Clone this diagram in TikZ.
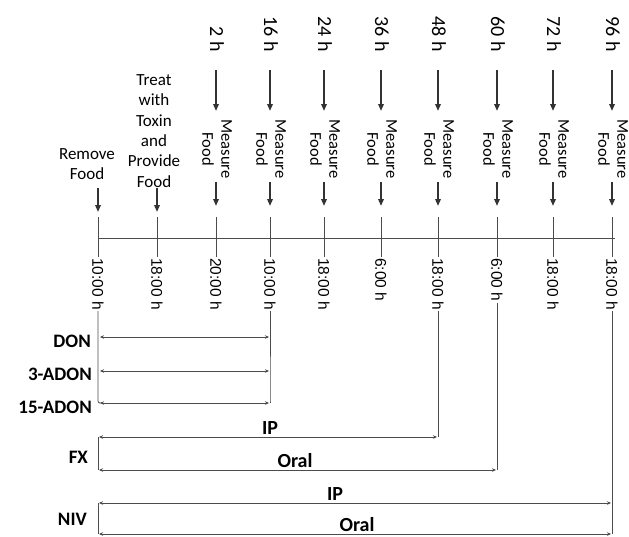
\documentclass[tikz,border=0pt]{standalone}
\usepackage{fontspec}
\setmainfont{Carlito}
\newfontfamily\arialfont{Liberation Sans}
\usetikzlibrary{arrows.meta}

\begin{document}
\begin{tikzpicture}[x=1pt,y=-1pt,
  bigarrow/.style={draw=black!80, line width=1.7pt, -{Triangle[length=7pt,width=5.5pt]}},
  tickline/.style={draw=black!70, line width=0.8pt},
  barline/.style={draw=black!70, line width=0.8pt, {Stealth[length=4pt,width=3.5pt]}-{Stealth[length=4pt,width=3.5pt]}},
  hourlbl/.style={rotate=-90, anchor=east, inner sep=0pt, font=\fontsize{20}{22}\selectfont},
  measurelbl/.style={rotate=-90, align=center, inner sep=0pt, font=\fontsize{16.5}{19}\selectfont},
  timelbl/.style={rotate=-90, anchor=west, inner sep=1pt, font=\arialfont\fontsize{15.5}{18}\selectfont},
  eventlbl/.style={align=center, inner sep=0pt, font=\fontsize{17}{20.3}\selectfont},
  toxinlbl/.style={anchor=east, inner sep=0pt, font=\bfseries\fontsize{19}{21}\selectfont},
  routelbl/.style={inner sep=0pt, font=\bfseries\fontsize{20}{22}\selectfont},
  corner/.style={rounded corners=2pt}]
\useasboundingbox (0,0) rectangle (629,536);

% column positions
\foreach \n/\x in {1/98,2/157,3/216,4/270,5/324,6/381,7/438,8/497,9/553,10/612}{
  \coordinate (top\n) at (\x,217);
  \coordinate (bot\n) at (\x,257);
}

% events before the measurements
\node[eventlbl] (remove) at (87,164) {Remove\\Food};
\node[eventlbl] (treat) at (154,131) {Treat\\with\\Toxin\\and\\Provide\\Food};
\coordinate (ra) at (98,188);
\coordinate (rb) at (98,212);
\coordinate (ta) at (157,188);
\coordinate (tb) at (157,212);
\draw[bigarrow] (ra) -- (rb);
\draw[bigarrow] (ta) -- (tb);

% measurement points
\foreach \n/\x/\h in {3/216/2 h,4/270/16 h,5/324/24 h,6/381/36 h,7/438/48 h,8/497/60 h,9/553/72 h,10/612/96 h}{
  \node[hourlbl] (h\n) at (\x+1,52) {\h};
  \coordinate (ha\n) at (\x,70);
  \coordinate (hb\n) at (\x,111);
  \draw[bigarrow] (ha\n) -- (hb\n);
  \node[measurelbl] (m\n) at (\x+1,149) {Measure\\Food};
  \coordinate (ma\n) at (\x,182);
  \coordinate (mb\n) at (\x,206);
  \draw[bigarrow] (ma\n) -- (mb\n);
}

% time line with ticks and clock times
\coordinate (tl0) at (98,238);
\coordinate (tl1) at (615,238);
\draw[tickline] (tl0) -- (tl1);
\foreach \n/\t in {1/10:00 h,2/18:00 h,3/20:00 h,4/10:00 h,5/18:00 h,6/6:00 h,7/18:00 h,8/6:00 h,9/18:00 h,10/18:00 h}{
  \draw[tickline] (top\n) -- (bot\n);
  \node[timelbl] (c\n) at (bot\n) {\t};
}

% toxin names
\node[toxinlbl] (don) at (91,341) {DON};
\node[toxinlbl] (adon3) at (92,374) {3-ADON};
\node[toxinlbl] (adon15) at (92,407) {15-ADON};
\node[toxinlbl] (fx) at (88,457) {FX};
\node[toxinlbl] (niv) at (87,519) {NIV};

% DON, 3-ADON, 15-ADON: 10:00 h to 10:00 h
\coordinate (d1l) at (99,337);  \coordinate (d1r) at (270,337);
\coordinate (d2l) at (99,371);  \coordinate (d2r) at (270,371);
\coordinate (d3l) at (99,403);  \coordinate (d3r) at (270,403);
\draw[tickline, corner] (c1.east) |- (d3l);
\draw[tickline, corner] (c4.east) |- (d3r);
\draw[barline] ([xshift=1pt]d1l) -- ([xshift=-1pt]d1r);
\draw[barline] ([xshift=1pt]d2l) -- ([xshift=-1pt]d2r);
\draw[barline] ([xshift=1pt]d3l) -- ([xshift=-1pt]d3r);

% FX: IP to 48 h, oral to 60 h
\coordinate (fipl) at (98,437);  \coordinate (fipr) at (438,437);
\coordinate (forl) at (98,470);  \coordinate (forr) at (497,470);
\draw[tickline, corner] (fipl) -- (forl);
\draw[tickline, corner] (c7.east) -- (fipr);
\draw[tickline, corner] (c8.east) -- (forr);
\draw[barline] ([xshift=1pt]fipl) -- ([xshift=-1pt]fipr);
\draw[barline] ([xshift=1pt]forl) -- ([xshift=-1pt]forr);
\node[routelbl] (fxip) at (270,428) {IP};
\node[routelbl] (fxoral) at (295,461) {Oral};

% NIV: IP and oral to 96 h
\coordinate (nipl) at (98,503);  \coordinate (nipr) at (612,503);
\coordinate (norl) at (98,534);  \coordinate (norr) at (612,534);
\draw[tickline, corner] (nipl) -- (norl);
\draw[tickline, corner] (c10.east) -- (norr);
\draw[barline] ([xshift=1pt]nipl) -- ([xshift=-1pt]nipr);
\draw[barline] ([xshift=1pt]norl) -- ([xshift=-1pt]norr);
\node[routelbl] (nivip) at (335,494) {IP};
\node[routelbl] (nivoral) at (357,525) {Oral};
\end{tikzpicture}
\end{document}
